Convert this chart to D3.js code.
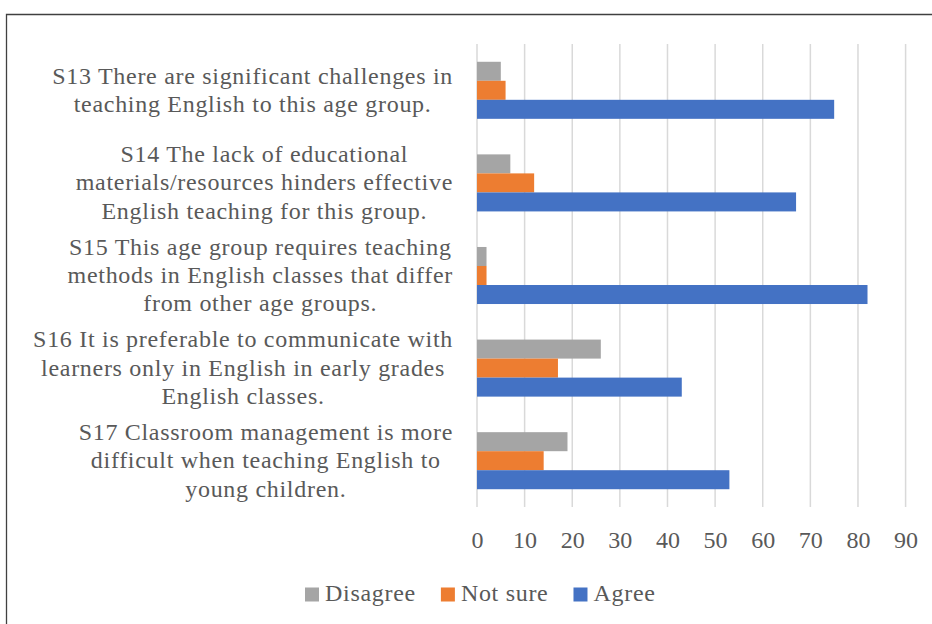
<!DOCTYPE html>
<html>
<head>
<meta charset="utf-8">
<script src="https://cdn.jsdelivr.net/npm/d3@7"></script>
<style>
  html, body { margin: 0; padding: 0; background: #fff; }
  svg { display: block; }
  text { font-family: "Palatino Linotype", "Book Antiqua", Palatino, "Liberation Serif", serif; fill: #595959; }
</style>
</head>
<body>
<svg id="chart" width="932" height="624"></svg>
<script>
// Survey statements (each entry is a list of wrapped lines)
const categories = [
  ["S13 There are significant challenges in", "teaching English to this age group."],
  ["S14 The lack of educational", "materials/resources hinders effective", "English teaching for this group."],
  ["S15 This age group requires teaching", "methods in English classes that differ", "from other age groups."],
  ["S16 It is preferable to communicate with", "learners only in English in early grades", "English classes."],
  ["S17 Classroom management is more", "difficult when teaching English to", "young children."]
];
const seriesNames = ["Disagree", "Not sure", "Agree"];
const seriesColors = ["#A5A5A5", "#ED7D31", "#4472C4"];
const disagree = [5, 7, 2, 26, 19];
const notSure = [6, 12, 2, 17, 14];
const agree = [75, 67, 82, 43, 53];
const xTicks = [0, 10, 20, 30, 40, 50, 60, 70, 80, 90];

const seriesValues = [disagree, notSure, agree];
const FS = 24;
const LS = 0.7;

const svg = d3.select("#chart");
svg.append("rect").attr("width", 932).attr("height", 624).attr("fill", "#fff");

// frame edge
svg.append("path")
  .attr("d", "M6.5,624 V14.5 H932")
  .attr("fill", "none")
  .attr("stroke", "#404040")
  .attr("stroke-width", 1.3);

const plot = { left: 477, right: 905.6, top: 44, bottom: 507 };

const x = d3.scaleLinear().domain([0, 90]).range([plot.left, plot.right]);
const y = d3.scaleBand()
  .domain(d3.range(categories.length))
  .range([plot.top, plot.bottom])
  .paddingInner(0.384)
  .paddingOuter(0.192);
const ySub = d3.scaleBand()
  .domain(d3.range(seriesNames.length))
  .range([0, y.bandwidth()]);

// vertical gridlines
svg.append("g")
  .selectAll("line")
  .data(xTicks)
  .join("line")
  .attr("x1", d => x(d)).attr("x2", d => x(d))
  .attr("y1", plot.top).attr("y2", plot.bottom)
  .attr("stroke", "#D9D9D9")
  .attr("stroke-width", 1.5);

// bars
const groups = svg.append("g")
  .selectAll("g")
  .data(categories.map((c, i) => i))
  .join("g")
  .attr("transform", i => `translate(0,${y(i)})`);

groups.selectAll("rect")
  .data(i => seriesValues.map((vals, s) => ({ s, v: vals[i] })))
  .join("rect")
  .attr("x", x(0))
  .attr("y", d => ySub(d.s))
  .attr("width", d => x(d.v) - x(0))
  .attr("height", ySub.bandwidth())
  .attr("fill", d => seriesColors[d.s]);

// x axis labels
const xAxis = d3.axisBottom(x).tickValues(xTicks).tickSize(0).tickPadding(24).tickFormat(d3.format("d"));
const gx = svg.append("g").attr("transform", `translate(0,${plot.bottom})`).call(xAxis);
gx.select(".domain").remove();
gx.attr("font-family", null).attr("font-size", null);
gx.selectAll("text").attr("font-size", FS).attr("fill", "#595959");

// category labels: lines centred on each other, block right-aligned near the axis
const labelRight = 453;
const lineH = 28.3;
categories.forEach((lines, i) => {
  const cy = y(i) + y.bandwidth() / 2;
  const g = svg.append("g");
  const texts = lines.map((line, k) =>
    g.append("text")
      .attr("text-anchor", "middle")
      .attr("font-size", FS)
      .attr("letter-spacing", LS)
      .attr("y", cy + (k - (lines.length - 1) / 2) * lineH + 7.5)
      .text(line)
  );
  const maxW = d3.max(texts, t => t.node().getComputedTextLength());
  const cx = labelRight - maxW / 2;
  texts.forEach(t => t.attr("x", cx));
});

// legend
const legend = svg.append("g");
let lx = 305;
seriesNames.forEach((name, s) => {
  legend.append("rect")
    .attr("x", lx).attr("y", 587.5)
    .attr("width", 14).attr("height", 14)
    .attr("fill", seriesColors[s]);
  const t = legend.append("text")
    .attr("x", lx + 20).attr("y", 600.5)
    .attr("font-size", FS)
    .attr("letter-spacing", LS)
    .text(name);
  lx += 20 + t.node().getComputedTextLength() + 25;
});
</script>
</body>
</html>
